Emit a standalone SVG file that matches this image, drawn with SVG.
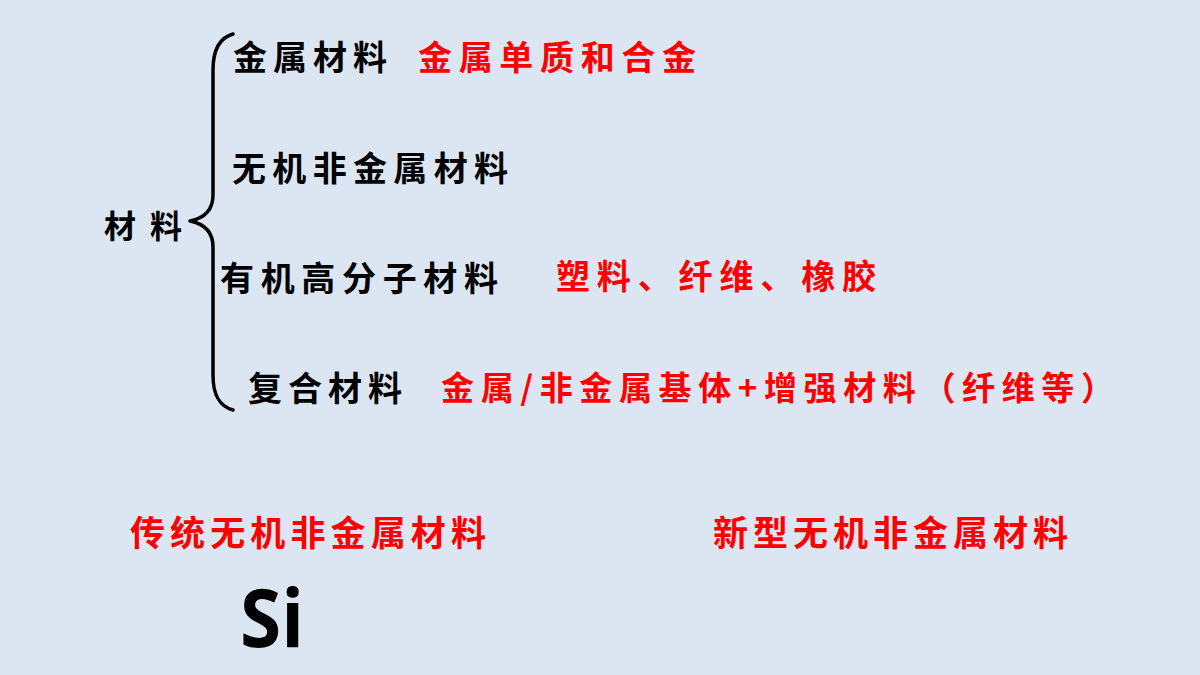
<svg xmlns="http://www.w3.org/2000/svg" width="1200" height="675" viewBox="0 0 1200 675">
<style>
.cj{font-family:"Noto Sans CJK SC","Noto Sans CJK JP",sans-serif;font-weight:700;}
.k{fill:#000;}
.r{fill:#ff0000;}
.brace{fill:none;stroke:#000;stroke-width:3.5;stroke-linecap:round;stroke-linejoin:round;}
</style>
<rect x="0" y="0" width="1200" height="675" fill="#dce6f2"/>
<g id="connectors">
<path class="brace" d="M233,34 C219,38 213,50 213,70 L213,195 C213,210 205,218 190,221 C205,224 213,232 213,247 L213,375 C213,395 219,406 233,410"/>
</g>
<g id="node-cailiao"><text class="cj k" x="104" y="238" font-size="32" textLength="78" lengthAdjust="spacing">材料</text></g>
<g id="node-jinshu"><text class="cj k" x="233" y="70" font-size="34" textLength="154" lengthAdjust="spacing">金属材料</text>
<text class="cj r" x="418" y="70" font-size="34" textLength="278" lengthAdjust="spacing">金属单质和合金</text></g>
<g id="node-wuji"><text class="cj k" x="232" y="181" font-size="34" textLength="276" lengthAdjust="spacing">无机非金属材料</text></g>
<g id="node-youji"><text class="cj k" x="220" y="291" font-size="34" textLength="278" lengthAdjust="spacing">有机高分子材料</text>
<text class="cj r" x="556" y="289" font-size="34" textLength="320" lengthAdjust="spacing">塑料、纤维、橡胶</text></g>
<g id="node-fuhe"><text class="cj k" x="248" y="401" font-size="34" textLength="154" lengthAdjust="spacing">复合材料</text>
<text class="cj r" x="441" y="400" font-size="33" textLength="673" lengthAdjust="spacing">金属/非金属基体+增强材料（纤维等）</text></g>
<g id="node-chuantong"><text class="cj r" x="130" y="546" font-size="35" textLength="356" lengthAdjust="spacing">传统无机非金属材料</text></g>
<g id="node-xinxing"><text class="cj r" x="713" y="546" font-size="35" textLength="355" lengthAdjust="spacing">新型无机非金属材料</text></g>
<g id="node-si"><text x="240" y="647" font-family="'Open Sans','Liberation Sans',sans-serif" font-weight="700" font-size="80" fill="#000" textLength="64" lengthAdjust="spacingAndGlyphs">Si</text></g>
</svg>
